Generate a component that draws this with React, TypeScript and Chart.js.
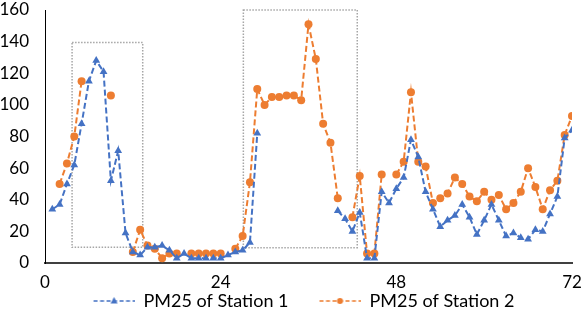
import { useEffect, useRef } from "react";
import { Chart, registerables } from "chart.js";

Chart.register(...registerables);

const hours = [
  1, 2, 3, 4, 5, 6, 7, 8, 9, 10, 11, 12, 13, 14, 15, 16, 17, 18, 19, 20, 21, 22, 23, 24,
  25, 26, 27, 28, 29, 30, 31, 32, 33, 34, 35, 36, 37, 38, 39, 40, 41, 42, 43, 44, 45, 46, 47, 48,
  49, 50, 51, 52, 53, 54, 55, 56, 57, 58, 59, 60, 61, 62, 63, 64, 65, 66, 67, 68, 69, 70, 71, 72,
];

const station1: (number | null)[] = [
  34, 37, 50, 62, 88, 115, 128, 121, 52, 71, 19, 7, 5, 10, 10, 11, 8, 3, 6, 3, 3, 3, 3, 3,
  5, 7, 8, 13, 82, null, null, null, null, null, null, null, null, null, null, 33, 28, 20, 32, 3,
  3, 45, 38, 47, 54, 78, 67, 45, 34, 23, 27, 30, 37, 29, 18, 27, 37, 27, 17, 19, 16, 15, 21, 20,
  31, 42, 79, 84,
];

const station2: (number | null)[] = [
  null, 50, 63, 80, 115, null, null, null, 106, null, null, 7, 21, 11, 9, 3, 6, 6, null, 6, 6, 6, 6, 6,
  null, 9, 17, 51, 110, 100, 105, 105, 106, 106, 103, 151, 129, 88, 76, 41, null, 29, 55, 6,
  6, 56, null, 56, 64, 108, 64, 61, 38, 41, 44, 54, 50, 42, 39, 45, 40, 43, 34, 38, 45, 60, 48, 34,
  46, 52, 81, 93,
];

const seriesNames = ["PM25 of Station 1", "PM25 of Station 2"];
const seriesColors = ["#4472C4", "#ED7D31"];

const xMin = 0;
const xMax = 72;
const xStep = 24;
const yMin = 0;
const yMax = 160;
const yStep = 20;

// dotted highlight boxes, in data units
const boxXRanges = [
  [3.7, 13.35],
  [27.1, 42.66],
];
const boxYRanges = [
  [9.9, 139.4],
  [9.7, 160],
];

function makeLegendImage(color: string, triangle: boolean) {
  const c = document.createElement("canvas");
  c.width = 68;
  c.height = 12;
  const ctx = c.getContext("2d")!;
  ctx.strokeStyle = color;
  ctx.lineWidth = 1.5;
  ctx.setLineDash([4, 2.5]);
  ctx.beginPath();
  ctx.moveTo(27, 6);
  ctx.lineTo(68, 6);
  ctx.stroke();
  ctx.setLineDash([]);
  ctx.fillStyle = color;
  const cx = 47.5;
  const cy = 6;
  ctx.beginPath();
  if (triangle) {
    ctx.moveTo(cx, cy - 4);
    ctx.lineTo(cx + 3.5, cy + 2.5);
    ctx.lineTo(cx - 3.5, cy + 2.5);
    ctx.closePath();
  } else {
    ctx.arc(cx, cy, 3, 0, Math.PI * 2);
  }
  ctx.fill();
  return c;
}

const boxPlugin = {
  id: "highlightBoxes",
  beforeDatasetsDraw(chart: any) {
    const { ctx, scales } = chart;
    const xs = scales.x;
    const ys = scales.y;
    ctx.save();
    ctx.strokeStyle = "#A6A6A6";
    ctx.lineWidth = 1.5;
    ctx.setLineDash([1.5, 1.5]);
    boxXRanges.forEach((xr, i) => {
      const yr = boxYRanges[i];
      const x1 = xs.getPixelForValue(xr[0]);
      const x2 = xs.getPixelForValue(xr[1]);
      const y1 = ys.getPixelForValue(yr[1]);
      const y2 = ys.getPixelForValue(yr[0]);
      ctx.strokeRect(x1, y1, x2 - x1, y2 - y1);
    });
    ctx.restore();
  },
};

export default function App() {
  const ref = useRef<HTMLCanvasElement | null>(null);

  useEffect(() => {
    if (!ref.current) return;
    const images = [
      makeLegendImage(seriesColors[0], true),
      makeLegendImage(seriesColors[1], false),
    ];
    const tickFont = { family: "Lato", size: 17 };
    const legendFont = { family: "Lato", size: 18 };
    const chart = new Chart(ref.current, {
      type: "line",
      data: {
        datasets: [
          {
            label: seriesNames[0],
            data: hours.map((h, i) => ({ x: h, y: station1[i] })) as any,
            borderColor: seriesColors[0],
            backgroundColor: seriesColors[0],
            borderWidth: 2,
            borderDash: [6, 3],
            pointStyle: "triangle",
            pointRadius: 4.5,
            pointBorderWidth: 0,
            spanGaps: false,
          },
          {
            label: seriesNames[1],
            data: hours.map((h, i) => ({ x: h, y: station2[i] })) as any,
            borderColor: seriesColors[1],
            backgroundColor: seriesColors[1],
            borderWidth: 2,
            borderDash: [6, 3],
            pointStyle: "circle",
            pointRadius: 4,
            pointBorderWidth: 0,
            spanGaps: false,
          },
        ],
      },
      options: {
        animation: false,
        responsive: true,
        maintainAspectRatio: false,
        layout: { padding: { top: 0, right: 0, left: 0, bottom: -11 } },
        scales: {
          x: {
            type: "linear",
            min: xMin,
            max: xMax,
            grid: { display: false, drawTicks: false },
            border: { display: true, color: "#404040", width: 2 },
            ticks: { stepSize: xStep, color: "#000", font: tickFont, padding: 9 },
            afterFit: (s: any) => {
              s.height = 25;
              s.paddingLeft = 0;
              s.paddingRight = 9;
            },
          },
          y: {
            min: yMin,
            max: yMax,
            grid: { display: false, drawTicks: false },
            border: { display: true, color: "#000", width: 1 },
            ticks: { stepSize: yStep, color: "#000", font: tickFont, padding: 16 },
            afterFit: (s: any) => {
              s.width = 45;
              s.paddingTop = 10;
              s.paddingBottom = 0;
            },
          },
        },
        plugins: {
          tooltip: { enabled: false },
          legend: {
            position: "bottom",
            labels: {
              usePointStyle: true,
              pointStyleWidth: 68,
              padding: 4,
              color: "#000",
              font: legendFont,
              generateLabels: (ch: any) =>
                ch.data.datasets.map((ds: any, i: number) => ({
                  text: ds.label,
                  pointStyle: images[i],
                  fillStyle: "transparent",
                  strokeStyle: "transparent",
                  lineWidth: 0,
                  hidden: false,
                  datasetIndex: i,
                  fontColor: "#000",
                })),
            },
          },
        },
      },
      plugins: [boxPlugin],
    });
    return () => chart.destroy();
  }, []);

  return (
    <div style={{ position: "fixed", left: 0, top: 0, width: 581, height: 309 }}>
      <canvas ref={ref} />
    </div>
  );
}
